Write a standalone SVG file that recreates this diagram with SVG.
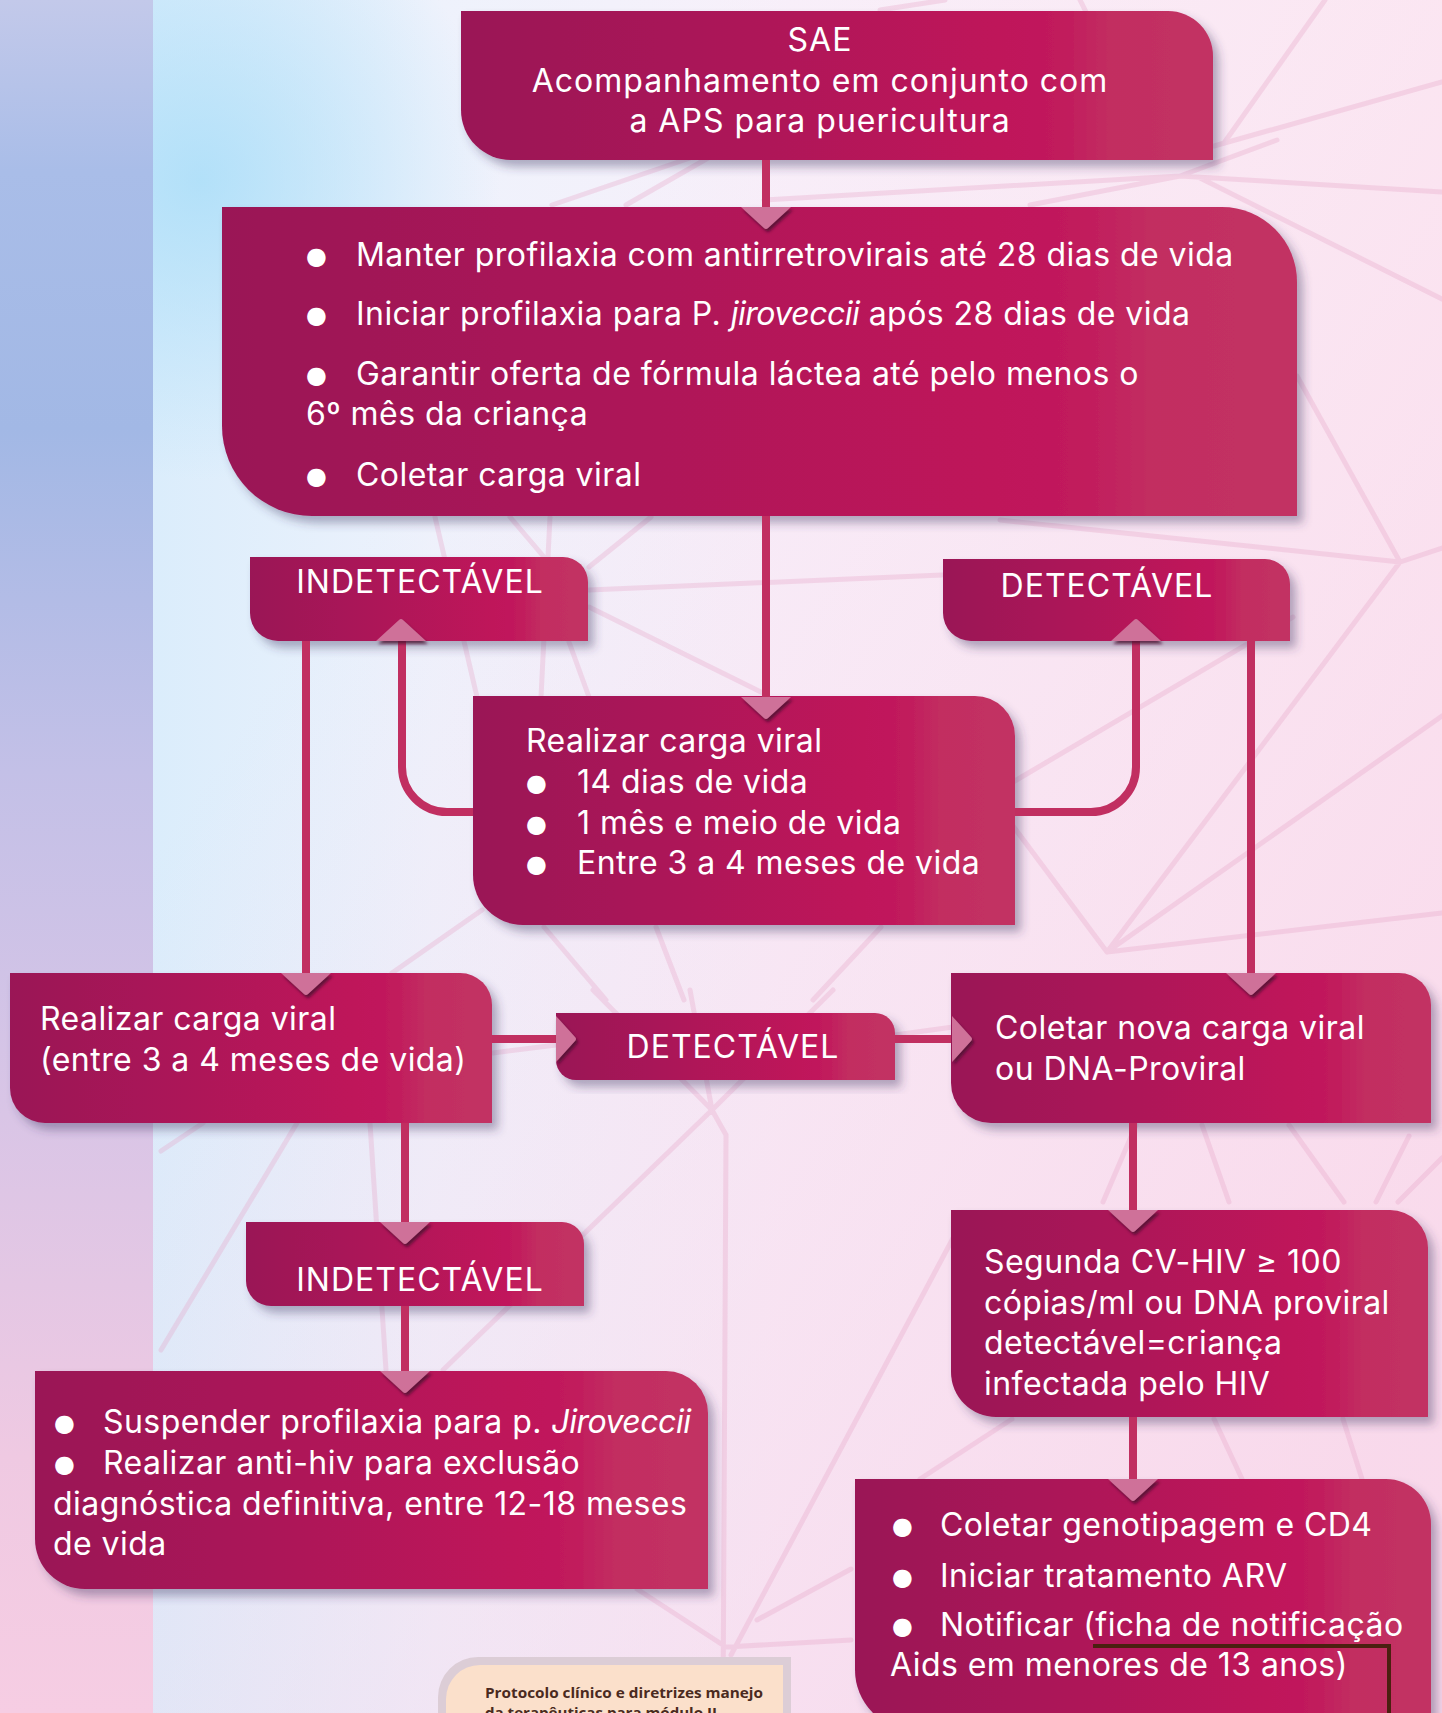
<svg xmlns="http://www.w3.org/2000/svg" xmlns:xlink="http://www.w3.org/1999/xlink" width="1442" height="1713" viewBox="0 0 1442 1713">
<defs>
<style>
.box{fill:url(#boxG);filter:url(#boxSh)}
.t{font-family:Inter,"Open Sans","Liberation Sans",sans-serif;font-size:32px;fill:#ffffff;letter-spacing:0.45px}
.it{font-style:italic;letter-spacing:-0.5px}
.cap{letter-spacing:1px}
.wide{letter-spacing:1px}
.b{font-family:"DejaVu Sans",sans-serif;font-size:24px;fill:#ffffff}
.con{fill:none;stroke:#c12f61;stroke-width:8}
.tri{fill:#cf7199;filter:url(#triSh)}
.net{fill:none;stroke:#e59fc4;stroke-opacity:0.3;stroke-width:5;stroke-linecap:round}
</style>
<linearGradient id="boxG" x1="0" y1="0" x2="1" y2="0">
<stop offset="0" stop-color="#9a1456"/>
<stop offset="0.4" stop-color="#ae1559"/>
<stop offset="0.72" stop-color="#bf145a"/>
<stop offset="0.8" stop-color="#c11b5c"/>
<stop offset="0.86" stop-color="#c22d61"/>
<stop offset="1" stop-color="#c23263"/>
</linearGradient>
<linearGradient id="bgG" x1="0" y1="0" x2="1" y2="0">
<stop offset="0" stop-color="#d0eafb"/>
<stop offset="0.3" stop-color="#eef2fc"/>
<stop offset="0.55" stop-color="#f8f0fa"/>
<stop offset="1" stop-color="#fdf0f7"/>
</linearGradient>
<linearGradient id="pinkOv" x1="0.3" y1="0.25" x2="1" y2="0.8">
<stop offset="0" stop-color="#f7cfe6" stop-opacity="0"/>
<stop offset="1" stop-color="#f7cfe6" stop-opacity="0.7"/>
</linearGradient>
<radialGradient id="cyan" cx="200" cy="180" r="300" gradientUnits="userSpaceOnUse">
<stop offset="0" stop-color="#a4dcf8" stop-opacity="0.75"/>
<stop offset="1" stop-color="#a4dcf8" stop-opacity="0"/>
</radialGradient>
<linearGradient id="stripG" x1="0" y1="0" x2="0" y2="1">
<stop offset="0" stop-color="#c3c9ea"/>
<stop offset="0.1" stop-color="#a9bde8"/>
<stop offset="0.25" stop-color="#a2b8e5"/>
<stop offset="0.45" stop-color="#c3c0e7"/>
<stop offset="0.65" stop-color="#d9c5e6"/>
<stop offset="0.85" stop-color="#efc9e2"/>
<stop offset="1" stop-color="#f6cde3"/>
</linearGradient>
<filter id="boxSh" x="-10%" y="-10%" width="125%" height="130%">
<feDropShadow dx="6" dy="7" stdDeviation="5" flood-color="#3a3060" flood-opacity="0.38"/>
</filter>
<filter id="triSh" x="-50%" y="-50%" width="200%" height="200%">
<feDropShadow dx="2" dy="3" stdDeviation="1.5" flood-color="#4a0a30" flood-opacity="0.8"/>
</filter>
<path id="tDown" d="M-25,0 L25,0 L2,21 Q0,23 -2,21 Z"/>
<path id="tUp" d="M-25,0 L25,0 L2,-21 Q0,-23 -2,-21 Z"/>
<path id="tRight" d="M0,-23 L0,23 L19,2 Q21,0 19,-2 Z"/>
</defs>

<g id="background">
<rect x="0" y="0" width="1442" height="1713" fill="url(#bgG)"/>
<rect x="0" y="0" width="1442" height="1713" fill="url(#pinkOv)"/>
<rect x="153" y="0" width="600" height="600" fill="url(#cyan)"/>
<rect x="0" y="0" width="153" height="1713" fill="url(#stripG)"/>
<path class="net" d="M552,205 L690,158 M626,205 L708,158 M764,200 L1180,176 M1030,205 L1180,176 L1442,192 M1180,176 L1277,140 M1214,146 L1442,82 M1224,143 L1325,0 M1200,178 L1442,299 M880,10 L945,0 M1080,0 L1090,20
M1297,376 L1400,562 L1442,548 M1000,520 L1400,562 M1400,562 L1107,952 M1293,617 L1013,782 M1442,716 L1107,952 L1442,913 M1107,952 L1013,826
M589,590 L942,575 M589,607 L763,693 M435,517 L477,697 M510,517 L544,557 M550,517 L541,697 M651,517 L589,567 M569,642 L589,697
M544,927 L606,1000 M656,927 L684,1000 M881,927 L813,1000 M482,910 L392,973
M593,990 L712,1110 L833,990 M690,990 L712,1110 M493,1053 L556,1045 M895,1035 L953,1027 M712,1110 L443,1370 M712,1110 L726,1135 L723,1713
M297,1123 L161,1350 M161,1151 L203,1123 M370,1123 L386,1370 M960,1225 L731,1655 M637,1589 L726,1647 L851,1640 M757,1620 L851,1569
M1136,1125 L1103,1202 M1202,1125 L1229,1202 M1289,1125 L1344,1202 M1409,1136 L1376,1202 M1442,1158 L1398,1202
M1012,1419 L920,1479 M1214,1419 L1242,1479 M1343,1419 L1362,1479"/>
</g>

<g id="node-sae">
<path class="box" d="M461,11 H1168 A45,45 0 0 1 1213,56 V160 H511 A50,50 0 0 1 461,110 Z"/>
<text class="t wide" text-anchor="middle"><tspan x="820" y="51">SAE</tspan><tspan x="820" y="92">Acompanhamento em conjunto com</tspan><tspan x="820" y="132">a APS para puericultura</tspan></text>
</g>

<g id="node-profilaxia">
<path class="box" d="M222,207 H1222 A75,75 0 0 1 1297,282 V516 H312 A90,90 0 0 1 222,426 Z"/>
<text class="b" x="306" y="264">●</text>
<text class="t" x="356" y="266">Manter profilaxia com antirretrovirais até 28 dias de vida</text>
<text class="b" x="306" y="323">●</text>
<text class="t" x="356" y="325">Iniciar profilaxia para P. <tspan class="it">jiroveccii</tspan> após 28 dias de vida</text>
<text class="b" x="306" y="383">●</text>
<text class="t" x="356" y="385">Garantir oferta de fórmula láctea até pelo menos o</text>
<text class="t" x="306" y="425">6º mês da criança</text>
<text class="b" x="306" y="484">●</text>
<text class="t" x="356" y="486">Coletar carga viral</text>
</g>

<g id="node-indetectavel-1">
<path class="box" d="M250,557 H563 A25,25 0 0 1 588,582 V641 H278 A28,28 0 0 1 250,613 Z"/>
<text class="t cap" x="420" y="593" text-anchor="middle">INDETECTÁVEL</text>
</g>

<g id="node-detectavel-1">
<path class="box" d="M943,559 H1265 A25,25 0 0 1 1290,584 V641 H971 A28,28 0 0 1 943,613 Z"/>
<text class="t cap" x="1107" y="597" text-anchor="middle">DETECTÁVEL</text>
</g>

<g id="node-realizar-1">
<path class="box" d="M473,696 H975 A40,40 0 0 1 1015,736 V925 H523 A50,50 0 0 1 473,875 Z"/>
<text class="t" x="526" y="752">Realizar carga viral</text>
<text class="b" x="526" y="791">●</text>
<text class="t" x="577" y="793">14 dias de vida</text>
<text class="b" x="526" y="832">●</text>
<text class="t" x="577" y="834">1 mês e meio de vida</text>
<text class="b" x="526" y="872">●</text>
<text class="t" x="577" y="874">Entre 3 a 4 meses de vida</text>
</g>

<g id="node-realizar-2">
<path class="box" d="M10,973 H460 A32,32 0 0 1 492,1005 V1123 H45 A35,35 0 0 1 10,1088 Z"/>
<text class="t"><tspan x="40" y="1030">Realizar carga viral</tspan><tspan x="40" y="1071">(entre 3 a 4 meses de vida)</tspan></text>
</g>

<g id="node-detectavel-2">
<path class="box" d="M556,1013 H875 A20,20 0 0 1 895,1033 V1080 H576 A20,20 0 0 1 556,1060 Z"/>
<text class="t cap" x="733" y="1058" text-anchor="middle">DETECTÁVEL</text>
</g>

<g id="node-coletar">
<path class="box" d="M951,973 H1399 A32,32 0 0 1 1431,1005 V1123 H991 A40,40 0 0 1 951,1083 Z"/>
<text class="t"><tspan x="995" y="1039">Coletar nova carga viral</tspan><tspan x="995" y="1080">ou DNA-Proviral</tspan></text>
</g>

<g id="node-indetectavel-2">
<path class="box" d="M246,1222 H562 A22,22 0 0 1 584,1244 V1306 H271 A25,25 0 0 1 246,1281 Z"/>
<text class="t cap" x="420" y="1291" text-anchor="middle">INDETECTÁVEL</text>
</g>

<g id="node-suspender">
<path class="box" d="M35,1371 H666 A42,42 0 0 1 708,1413 V1589 H85 A50,50 0 0 1 35,1539 Z"/>
<text class="b" x="54" y="1431">●</text>
<text class="t" x="103" y="1433">Suspender profilaxia para p. <tspan class="it">Jiroveccii</tspan></text>
<text class="b" x="54" y="1472">●</text>
<text class="t" x="103" y="1474">Realizar anti-hiv para exclusão</text>
<text class="t"><tspan x="53" y="1515">diagnóstica definitiva, entre 12-18 meses</tspan><tspan x="53" y="1555">de vida</tspan></text>
</g>

<g id="node-segunda">
<path class="box" d="M951,1210 H1390 A38,38 0 0 1 1428,1248 V1417 H996 A45,45 0 0 1 951,1372 Z"/>
<text class="t"><tspan x="984" y="1273">Segunda CV-HIV ≥ 100</tspan><tspan x="984" y="1314">cópias/ml ou DNA proviral</tspan><tspan x="984" y="1354">detectável=criança</tspan><tspan x="984" y="1395">infectada pelo HIV</tspan></text>
</g>

<g id="node-tratamento">
<path class="box" d="M855,1479 H1386 A45,45 0 0 1 1431,1524 V1730 H915 A60,60 0 0 1 855,1670 Z"/>
<text class="b" x="892" y="1534">●</text>
<text class="t" x="940" y="1536">Coletar genotipagem e CD4</text>
<text class="b" x="892" y="1585">●</text>
<text class="t" x="940" y="1587">Iniciar tratamento ARV</text>
<text class="b" x="892" y="1634">●</text>
<text class="t" x="940" y="1636">Notificar (ficha de notificação</text>
<text class="t" x="890" y="1676">Aids em menores de 13 anos)</text>
</g>

<g id="connectors">
<path class="con" d="M766,160 V207"/>
<path class="con" d="M766,516 V697"/>
<path class="con" d="M473,812 H447 A45,45 0 0 1 402,767 V641"/>
<path class="con" d="M1015,812 H1091 A45,45 0 0 0 1136,767 V641"/>
<path class="con" d="M306,641 V973"/>
<path class="con" d="M1251,641 V973"/>
<path class="con" d="M492,1039 H556"/>
<path class="con" d="M895,1039 H951"/>
<path class="con" d="M405,1123 V1222"/>
<path class="con" d="M405,1306 V1371"/>
<path class="con" d="M1133,1123 V1210"/>
<path class="con" d="M1133,1417 V1479"/>
<use href="#tDown" class="tri" x="766" y="207"/>
<use href="#tDown" class="tri" x="766" y="697"/>
<use href="#tUp" class="tri" x="401" y="641"/>
<use href="#tUp" class="tri" x="1136" y="641"/>
<use href="#tDown" class="tri" x="306" y="973"/>
<use href="#tDown" class="tri" x="1251" y="973"/>
<use href="#tRight" class="tri" x="556" y="1039"/>
<use href="#tRight" class="tri" x="952" y="1039"/>
<use href="#tDown" class="tri" x="405" y="1222"/>
<use href="#tDown" class="tri" x="405" y="1371"/>
<use href="#tDown" class="tri" x="1133" y="1210"/>
<use href="#tDown" class="tri" x="1133" y="1479"/>
</g>

<g id="page-overlay">
<path d="M1093,1646 H1389 V1713" fill="none" stroke="#4b2010" stroke-width="4"/>
<path d="M438,1713 V1697 A40,40 0 0 1 478,1657 H791 V1713 Z" fill="#dccdd6"/>
<path d="M446,1713 V1699 A34,34 0 0 1 480,1665 H783 V1713 Z" fill="#fbe0cb"/>
<text x="485" y="1698" font-family="'Open Sans','Liberation Sans',sans-serif" font-size="14" font-weight="700" fill="#4a2a20" textLength="278" lengthAdjust="spacingAndGlyphs">Protocolo clínico e diretrizes manejo</text>
<text x="485" y="1718" font-family="'Open Sans','Liberation Sans',sans-serif" font-size="14" font-weight="700" fill="#4a2a20" textLength="232" lengthAdjust="spacingAndGlyphs">da terapêuticas para módulo II</text>
</g>
</svg>
